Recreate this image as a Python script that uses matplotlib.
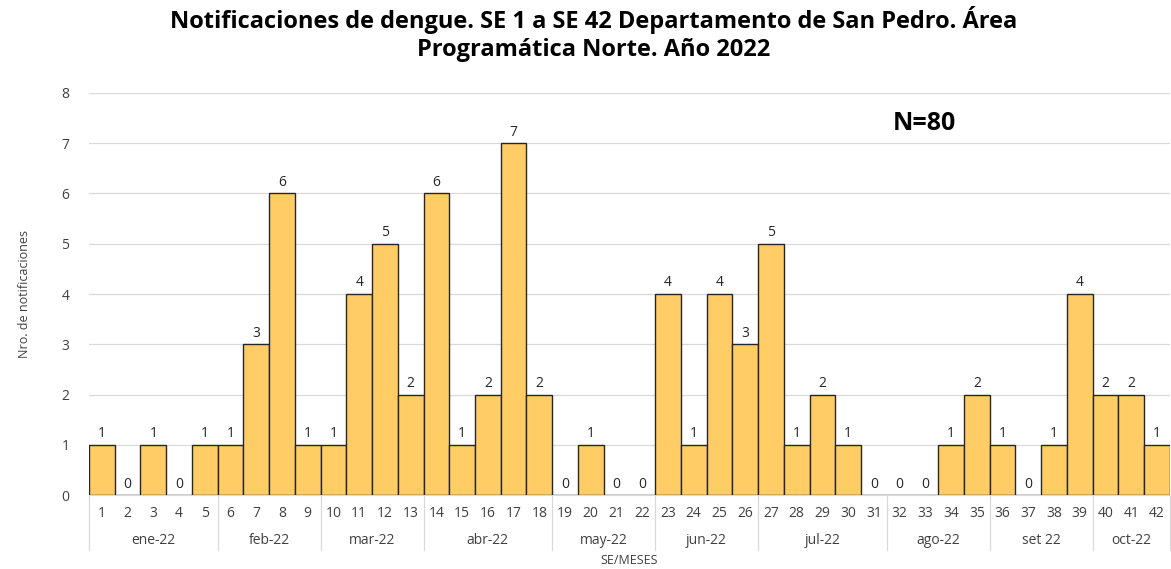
import matplotlib.pyplot as plt
import numpy as np

weeks = list(range(1, 43))
counts = [1, 0, 1, 0, 1, 1, 3, 6, 1, 1, 4, 5, 2, 6, 1, 2, 7, 2, 0, 1, 0,
          0, 4, 1, 4, 3, 5, 1, 2, 1, 0, 0, 0, 1, 2, 1, 0, 1, 4, 2, 2, 1]
months = ["ene-22", "feb-22", "mar-22", "abr-22", "may-22", "jun-22",
          "jul-22", "ago-22", "set 22", "oct-22"]
weeks_per_month = [5, 4, 4, 5, 4, 4, 5, 4, 4, 3]

plt.rcParams['font.family'] = ['Open Sans', 'DejaVu Sans']

fig = plt.figure(figsize=(11.71, 5.69), dpi=100)
ax = fig.add_axes([0.076, 0.130, 0.923, 0.7066])

x = np.arange(len(weeks))
bars = ax.bar(x, counts, width=1.0, color="#FFCC66", edgecolor="#262626",
              linewidth=1.0, zorder=3)
for xi, v in zip(x, counts):
    ax.text(xi, v + 0.07, str(v), ha="center", va="bottom", fontsize=10,
            color="#262626")

ax.set_xlim(-0.5, len(weeks) - 0.5)
ax.set_ylim(0, 8)
ax.set_yticks(range(0, 9))
ax.tick_params(axis="y", length=0, labelsize=10, colors="#404040", pad=14)
ax.grid(axis="y", color="#d9d9d9", linewidth=0.9, zorder=0)
for s in ["top", "right", "left"]:
    ax.spines[s].set_visible(False)
ax.spines["bottom"].set_color("#d9d9d9")

ax.set_xticks(x)
ax.set_xticklabels([str(w) for w in weeks], fontsize=10, color="#404040")
ax.tick_params(axis="x", length=0, pad=8)

# month groups under the week numbers
trans = ax.get_xaxis_transform()
start = 0
bounds = [-0.5]
for m, n in zip(months, weeks_per_month):
    center = start + (n - 1) / 2
    ax.text(center, -0.114, m, transform=trans, ha="center", va="center",
            fontsize=10, color="#404040")
    start += n
    bounds.append(start - 0.5)
for b in bounds:
    ax.plot([b, b], [0, -0.137], transform=trans, color="#d9d9d9",
            linewidth=0.9, clip_on=False)

ax.text(0.5, -0.164, "SE/MESES", transform=ax.transAxes, ha="center",
        va="center", fontsize=9, color="#404040")
ax.set_ylabel("Nro. de notificaciones", fontsize=9, color="#404040", labelpad=22)

ax.text(0.744, 0.925, "N=80", transform=ax.transAxes, fontsize=18,
        fontweight="bold", ha="left", va="center", color="black")

fig.suptitle("Notificaciones de dengue. SE 1 a SE 42 Departamento de San Pedro. Área\n"
             "Programática Norte. Año 2022", fontsize=17, fontweight="bold",
             x=0.507, y=0.99, va="top", linespacing=1.25)

fig.savefig("out.png", dpi=100)
